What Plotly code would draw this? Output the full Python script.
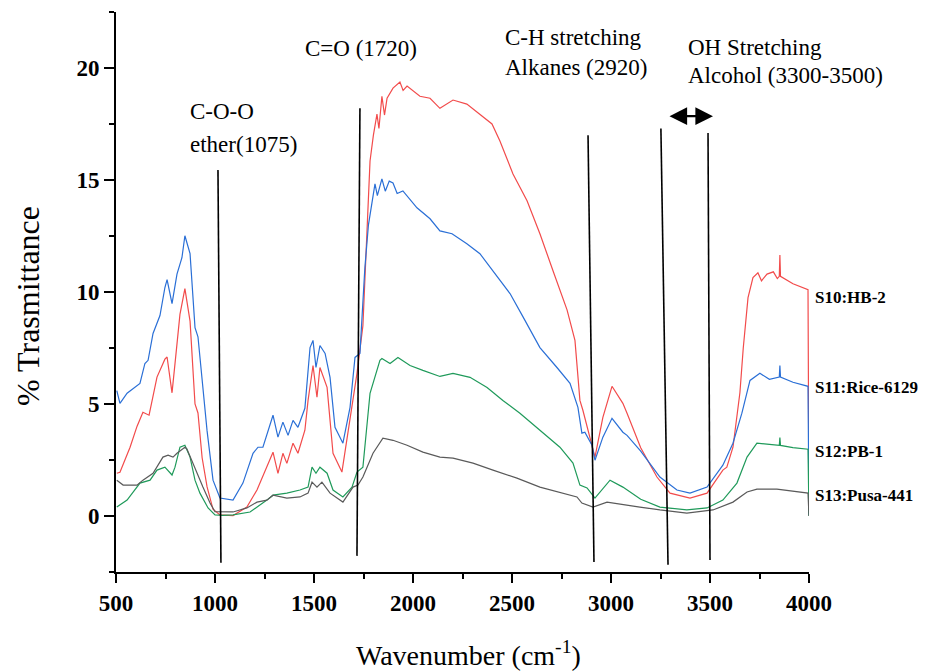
import plotly.graph_objects as go

# ---------------- data ----------------
hb2_x = [504, 520, 571, 606, 636, 667, 707, 747, 758, 783, 798, 823, 848, 874, 899, 914, 935, 960, 990, 1025,
         1091, 1161, 1212, 1293, 1318, 1343, 1363, 1394, 1419, 1454, 1470, 1495, 1515, 1530, 1566, 1596, 1641,
         1672, 1717, 1747, 1768, 1783, 1800, 1818, 1828, 1843, 1856, 1869, 1899, 1934, 1950, 1970, 2035, 2086,
         2136, 2202, 2272, 2338, 2399, 2439, 2505, 2576, 2641, 2707, 2778, 2818, 2843, 2858, 2884, 2919, 2959,
         3005, 3060, 3081, 3150, 3232, 3298, 3399, 3485, 3565, 3585, 3616, 3651, 3668, 3692, 3717, 3742, 3760,
         3788, 3820, 3840, 3850, 3853, 3856, 3919, 3995, 4000]
hb2_y = [1.91, 1.95, 3.07, 4.0, 4.63, 4.5, 6.2, 7.0, 7.1, 5.5, 6.8, 9.0, 10.15, 8.7, 5.0, 4.6, 2.6, 1.3, 0.3, 0.05,
         0.02, 0.4, 1.16, 2.85, 1.9, 2.8, 2.35, 3.25, 2.8, 3.83, 5.16, 6.72, 5.3, 6.63, 5.74, 2.8, 1.96,
         3.7, 6.37, 8.5, 12.5, 15.85, 17.0, 17.94, 17.3, 18.74, 17.9, 18.65, 19.1, 19.37, 19.0, 19.19, 18.74, 18.65,
         18.2, 18.57, 18.39, 17.94, 17.5, 16.74, 15.27, 14.07, 12.6, 10.95, 9.2, 7.84, 5.16, 4.72, 3.83, 2.63, 4.4,
         5.79, 5.03, 4.59, 3.05, 1.74, 1.02, 0.8, 1.02, 2.05, 2.18, 3.07, 5.5, 7.5, 9.75, 10.64, 10.86, 10.5,
         10.8, 10.9, 10.6, 10.7, 11.65, 10.7, 10.37, 10.1, 0.1]

rice_x = [504, 520, 556, 586, 621, 646, 662, 687, 722, 747, 758, 783, 808, 833, 848, 874, 899, 914, 930, 949, 960,
          990, 1025, 1091, 1141, 1192, 1217, 1242, 1293, 1318, 1343, 1369, 1394, 1419, 1454, 1480, 1495, 1510,
          1530, 1556, 1581, 1606, 1646, 1682, 1707, 1732, 1757, 1775, 1808, 1820, 1843, 1860, 1880, 1899, 1920,
          1949, 2020, 2086, 2136, 2197, 2272, 2338, 2404, 2490, 2555, 2641, 2727, 2793, 2833, 2853, 2868, 2904,
          2919, 2959, 3005, 3060, 3081, 3150, 3247, 3333, 3399, 3485, 3565, 3616, 3661, 3702, 3752, 3800, 3850,
          3853, 3856, 3919, 3995, 4000]
rice_y = [5.6, 5.03, 5.48, 5.7, 5.92, 6.81, 6.95, 8.15, 8.95, 10.2, 10.55, 9.48, 10.8, 11.53, 12.51, 11.71, 8.41,
          8.0, 6.6, 4.85, 3.8, 1.6, 0.8, 0.71, 1.47, 2.8, 3.07, 3.07, 4.5, 3.52, 4.19, 3.6, 4.27, 3.96, 4.81, 7.52,
          7.84, 6.63, 7.61, 7.26, 6.19, 3.96, 3.25, 4.85, 7.08, 7.26, 11.09, 13.0, 14.83, 14.3, 15.05, 14.5, 14.95,
          14.87, 14.4, 14.51, 13.76, 13.27, 12.73, 12.6, 12.15, 11.71, 10.95, 9.93, 8.9, 7.52, 6.63, 5.92, 4.85,
          3.7, 3.74, 3.16, 2.49, 3.52, 4.36, 3.74, 3.6, 2.9, 1.74, 1.16, 1.02, 1.29, 2.27, 3.25, 4.59, 6.05, 6.37,
          6.1, 6.2, 6.72, 6.2, 5.97, 5.79, 0.05]

pb1_x = [504, 556, 621, 672, 707, 747, 783, 798, 823, 848, 874, 899, 924, 965, 1000, 1040, 1091, 1177, 1262,
         1293, 1363, 1429, 1470, 1490, 1510, 1530, 1566, 1596, 1646, 1692, 1717, 1747, 1783, 1833, 1843, 1884,
         1924, 1985, 2050, 2136, 2202, 2288, 2374, 2454, 2540, 2641, 2742, 2808, 2843, 2879, 2919, 2995, 3060,
         3150, 3247, 3383, 3485, 3565, 3636, 3687, 3737, 3800, 3850, 3853, 3856, 3919, 3995, 4000]
pb1_y = [0.4, 0.71, 1.47, 1.6, 2.05, 2.18, 1.83, 2.18, 3.07, 3.16, 2.63, 1.6, 1.02, 0.36, 0.05, 0.03, 0.05, 0.18,
         0.71, 0.93, 1.02, 1.16, 1.29, 2.18, 1.91, 2.18, 1.91, 1.16, 0.85, 1.29, 1.96, 2.18, 5.48, 6.95, 7.03, 6.81,
         7.08, 6.72, 6.5, 6.23, 6.37, 6.19, 5.74, 5.16, 4.59, 3.83, 3.07, 2.36, 1.38, 1.25, 0.8, 1.6, 1.29,
         0.75, 0.4, 0.27, 0.36, 0.71, 1.47, 2.63, 3.25, 3.2, 3.15, 3.5, 3.15, 3.05, 2.98, 0.0]

pusa_x = [504, 536, 606, 636, 687, 737, 763, 788, 808, 848, 858, 909, 939, 975, 1000, 1091, 1161, 1212, 1262,
          1293, 1363, 1429, 1470, 1490, 1515, 1540, 1581, 1646, 1697, 1722, 1747, 1798, 1848, 1899, 1970, 2050,
          2136, 2202, 2303, 2404, 2525, 2641, 2742, 2828, 2853, 2909, 2980, 3060, 3146, 3247, 3383, 3515, 3616,
          3687, 3737, 3838, 3995, 4000]
pusa_y = [1.6, 1.38, 1.38, 1.6, 1.91, 2.63, 2.72, 2.63, 2.8, 3.07, 3.0, 1.9, 1.29, 0.58, 0.19, 0.18, 0.36, 0.62,
          0.71, 0.93, 0.8, 0.85, 1.02, 1.51, 1.29, 1.51, 1.02, 0.62, 1.29, 1.38, 1.74, 2.8, 3.47, 3.38, 3.16, 2.85,
          2.63, 2.58, 2.36, 2.05, 1.69, 1.29, 1.07, 0.85, 0.58, 0.4, 0.62, 0.53, 0.4, 0.27, 0.13, 0.27, 0.62,
          1.07, 1.2, 1.2, 1.02, 0.0]

series_names = ["S10:HB-2", "S11:Rice-6129", "S12:PB-1", "S13:Pusa-441"]
series_colors = ["#f24b4b", "#2a6fd6", "#1f9a5a", "#5a5a5a"]
label_y = [9.75, 5.74, 2.89, 0.93]

# marker lines (band annotations): top/bottom x and y
band_x_top = [1015, 1732, 2884, 3252, 3490]
band_x_bot = [1030, 1717, 2914, 3288, 3500]
band_y_top = [15.45, 18.2, 17.0, 17.3, 17.1]
band_y_bot = [-2.09, -1.78, -2.05, -2.18, -1.96]

band_text = ["C-O-O", "ether(1075)", "C=O (1720)", "C-H stretching", "Alkanes (2920)",
             "OH Stretching", "Alcohol (3300-3500)"]
band_text_x = [864, 864, 1444, 2454, 2454, 3379, 3379]
band_text_y = [18.08, 16.6, 20.88, 21.37, 20.04, 20.93, 19.68]

arrow_x = [3288, 3515]
arrow_y = 17.85

x_ticks = [500, 1000, 1500, 2000, 2500, 3000, 3500, 4000]
y_ticks = [0, 5, 10, 15, 20]

# ---------------- figure ----------------
fig = go.Figure()
for xs, ys, name, col in zip([hb2_x, rice_x, pb1_x, pusa_x], [hb2_y, rice_y, pb1_y, pusa_y],
                             series_names, series_colors):
    fig.add_trace(go.Scatter(x=xs, y=ys, mode="lines", name=name,
                             line=dict(color=col, width=1.2), showlegend=False))

serif = "Liberation Serif"
for xt, xb, yt, yb in zip(band_x_top, band_x_bot, band_y_top, band_y_bot):
    fig.add_shape(type="line", xref="x", yref="y", x0=xt, y0=yt, x1=xb, y1=yb,
                  line=dict(color="black", width=1.6))

for t, tx, ty in zip(band_text, band_text_x, band_text_y):
    fig.add_annotation(x=tx, y=ty, xref="x", yref="y", text=t, showarrow=False,
                       xanchor="left", yanchor="middle",
                       font=dict(family=serif, size=23, color="black"))

fig.add_annotation(x=arrow_x[1], y=arrow_y, ax=arrow_x[0], ay=arrow_y, xref="x", yref="y",
                   axref="x", ayref="y", text="", showarrow=True, arrowside="end+start",
                   arrowhead=2, arrowsize=1.6, arrowwidth=2.2, arrowcolor="black")

for name, ly in zip(series_names, label_y):
    fig.add_annotation(x=1, y=ly, xref="paper", yref="y", text="<b>" + name + "</b>",
                       showarrow=False, xanchor="left", yanchor="middle", xshift=4,
                       font=dict(family=serif, size=17, color="black"))

fig.add_annotation(x=-0.127, y=0.475, xref="paper", yref="paper", text="% Trasmittance",
                   textangle=-90, showarrow=False, xanchor="center", yanchor="middle",
                   font=dict(family=serif, size=32, color="black"))
fig.add_annotation(x=0.508, y=-0.145, xref="paper", yref="paper",
                   text="Wavenumber (cm<sup>-1</sup>)", showarrow=False,
                   xanchor="center", yanchor="middle",
                   font=dict(family=serif, size=28, color="black"))

fig.update_layout(
    width=928, height=671,
    margin=dict(l=116, r=119, t=12, b=99),
    paper_bgcolor="white", plot_bgcolor="white",
    xaxis=dict(range=[500, 4000], tickvals=x_ticks, ticks="outside", ticklen=9, tickwidth=2,
               tickcolor="black", showline=True, linecolor="black", linewidth=2,
               showgrid=False, zeroline=False,
               minor=dict(dtick=250, tick0=500, ticks="outside", ticklen=5, tickwidth=2, tickcolor="black"),
               tickfont=dict(family=serif, size=23, color="black", weight="bold")),
    yaxis=dict(range=[-2.5, 22.5], tickvals=y_ticks, ticks="outside", ticklen=10, tickwidth=2,
               tickcolor="black", showline=True, linecolor="black", linewidth=2,
               showgrid=False, zeroline=False,
               minor=dict(dtick=2.5, tick0=0, ticks="outside", ticklen=5, tickwidth=2, tickcolor="black"),
               tickfont=dict(family=serif, size=23, color="black", weight="bold")),
)

fig.write_html("out.html", config={"displayModeBar": False},
               post_script="document.body.style.margin='0px';")
